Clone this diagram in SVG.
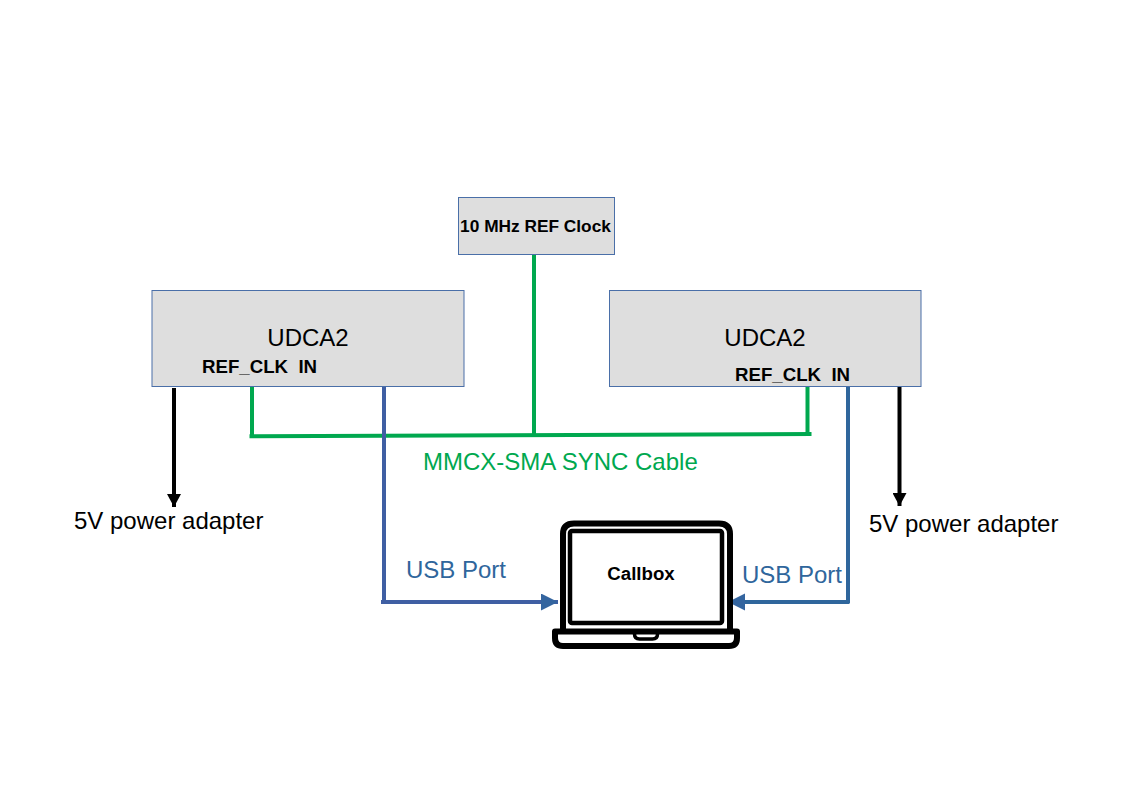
<svg xmlns="http://www.w3.org/2000/svg" width="1123" height="794" viewBox="0 0 1123 794">
<style>
text{font-family:"Liberation Sans",Arial,sans-serif}
.box{fill:#dedede;stroke:#4a6fa8;stroke-width:1}
.big{font-size:24px;fill:#000}
.bold{font-size:18.670px;font-weight:bold;fill:#000}
.lap{fill:none;stroke:#000}
.g{stroke:#00a84f;stroke-width:4;fill:none}
.b1{stroke:#3f5fa3;stroke-width:4;fill:none}
.b2{stroke:#2f669c;stroke-width:4;fill:none}
.k{stroke:#000;stroke-width:4;fill:none}
</style>
<defs>
<marker id="ak" markerUnits="userSpaceOnUse" markerWidth="14" markerHeight="14" refX="13" refY="7" orient="auto"><path d="M0 0L13 7L0 14Z" fill="#000"/></marker>
<marker id="ab" markerUnits="userSpaceOnUse" markerWidth="18" markerHeight="18" refX="17" refY="8.500" orient="auto"><path d="M0 0L17 8.500L0 17Z" fill="#34659f"/></marker>
</defs>
<rect width="1123" height="794" fill="#fff"/>
<g id="connectors">
<path class="g" d="M534 255V435"/>
<path class="g" d="M252 387V436"/>
<path class="g" d="M807.500 387V434"/>
<path class="g" d="M249.500 436.300L811.500 434"/>
<path class="b1" d="M384 387V602"/>
<path class="b1" d="M381 602H558" marker-end="url(#ab)"/>
<path class="b2" d="M848 387V603"/>
<path class="b2" d="M849.500 602H728" marker-end="url(#ab)"/>
<path class="k" d="M174 388V507" marker-end="url(#ak)"/>
<path class="k" d="M899.500 387V506" marker-end="url(#ak)"/>
</g>
<g id="ref-clock">
<rect class="box" x="458.500" y="197.500" width="156" height="57"/>
<text x="535.500" y="232" text-anchor="middle" font-size="17.300" font-weight="bold">10 MHz REF Clock</text>
</g>
<g id="udca2-left">
<rect class="box" x="152" y="290.500" width="312" height="96"/>
<text class="big" x="308" y="346" text-anchor="middle">UDCA2</text>
<text class="bold" x="202" y="373" xml:space="preserve">REF_CLK  IN</text>
</g>
<g id="udca2-right">
<rect class="box" x="609.500" y="290.500" width="311.500" height="96"/>
<text class="big" x="765" y="346" text-anchor="middle">UDCA2</text>
<text class="bold" x="735" y="381" xml:space="preserve">REF_CLK  IN</text>
</g>
<g id="callbox">
<path class="lap" stroke-width="6" d="M563 629V534Q563 523.500 574 523.500H719Q730 523.500 730 534V629"/>
<rect class="lap" stroke-width="4.500" x="570" y="531" width="152" height="92" rx="2"/>
<path class="lap" stroke-width="6" stroke-linejoin="round" d="M555 631.500H737V638Q737 646 729 646H563Q555 646 555 638Z"/>
<path class="lap" stroke-width="3.500" d="M634.500 632V634Q634.500 639 639.500 639H652.500Q657.500 639 657.500 634V632"/>
<text class="bold" x="641" y="580" text-anchor="middle">Callbox</text>
</g>
<g id="labels">
<text class="big" x="74" y="529">5V power adapter</text>
<text class="big" x="869" y="532">5V power adapter</text>
<text x="423" y="470" font-size="24" fill="#00a84f">MMCX-SMA SYNC Cable</text>
<text x="406" y="578" font-size="24" fill="#2f669c">USB Port</text>
<text x="742" y="583" font-size="24" fill="#2f669c">USB Port</text>
</g>
</svg>
